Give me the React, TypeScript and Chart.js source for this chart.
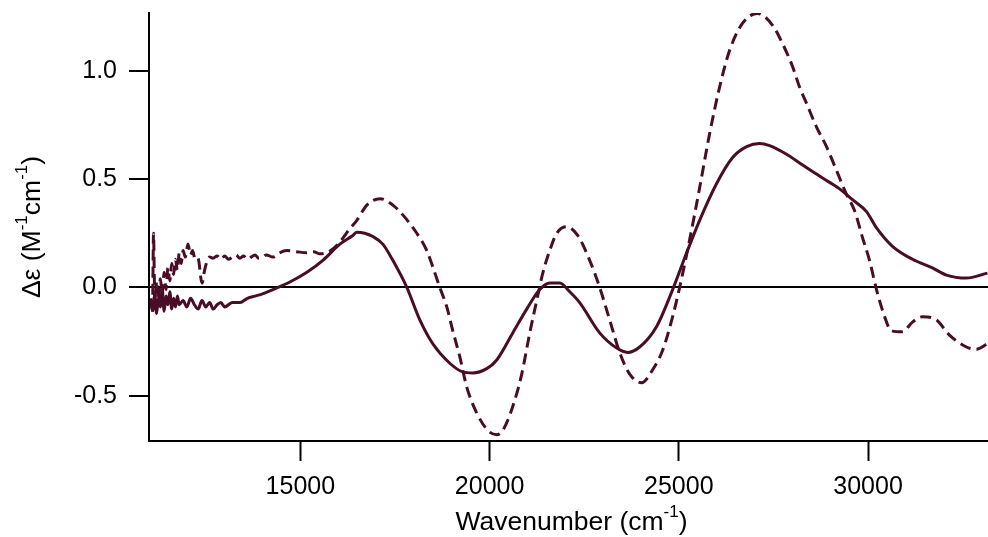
import React, { useEffect, useRef } from 'react';
import { Chart, registerables } from 'chart.js';

Chart.register(...registerables);

// ---- data ----
const solidX = [11050, 11100, 11150, 11200, 11250, 11300, 11350, 11400, 11450, 11500, 11550, 11600, 11650, 11700, 11750, 11800, 11900, 12000, 12100, 12200, 12300, 12400, 12500, 12600, 12700, 12800, 12900, 13000, 13200, 13403, 13600, 13800, 14000, 14274, 14723, 15172, 15595, 16044, 16387, 16493, 16700, 16915, 17179, 17443, 17813, 18156, 18499, 18948, 19291, 19556, 19925, 20189, 20612, 20981, 21325, 21589, 21853, 22117, 22381, 22909, 23358, 23649, 23965, 24414, 24837, 25207, 25550, 25999, 26422, 26792, 27135, 27398, 27847, 28191, 28534, 28983, 29247, 29590, 29960, 30224, 30646, 31174, 31702, 32072, 32600, 33155];
const solidY = [-0.06, -0.10, -0.03, -0.12, -0.05, -0.09, -0.01, -0.11, -0.04, -0.08, -0.02, -0.10, -0.05, -0.09, -0.04, -0.08, -0.06, -0.09, -0.05, -0.08, -0.10, -0.06, -0.09, -0.07, -0.10, -0.08, -0.07, -0.09, -0.07, -0.07, -0.05, -0.04, -0.03, -0.01, 0.025, 0.07, 0.125, 0.20, 0.24, 0.255, 0.25, 0.235, 0.20, 0.125, 0.0, -0.15, -0.26, -0.35, -0.39, -0.395, -0.375, -0.335, -0.21, -0.10, -0.01, 0.02, 0.02, -0.02, -0.07, -0.21, -0.28, -0.30, -0.275, -0.18, -0.01, 0.16, 0.31, 0.48, 0.60, 0.65, 0.665, 0.655, 0.615, 0.575, 0.535, 0.485, 0.455, 0.405, 0.35, 0.275, 0.19, 0.13, 0.09, 0.057, 0.043, 0.066];

const dashedX = [11050, 11090, 11120, 11140, 11160, 11200, 11250, 11300, 11350, 11400, 11450, 11500, 11550, 11600, 11650, 11700, 11750, 11800, 11850, 11900, 11960, 12030, 12100, 12150, 12220, 12294, 12400, 12470, 12532, 12600, 12690, 12800, 12900, 13000, 13100, 13200, 13300, 13400, 13500, 13600, 13700, 13800, 13900, 14000, 14100, 14274, 14450, 14644, 14900, 15172, 15350, 15516, 15800, 16044, 16300, 16493, 16757, 17100, 17443, 17707, 18077, 18341, 18499, 18684, 18869, 19027, 19212, 19397, 19661, 19952, 20189, 20348, 20612, 20849, 21061, 21246, 21404, 21589, 21774, 22038, 22328, 22645, 22909, 23173, 23437, 23702, 24018, 24309, 24573, 24837, 25022, 25286, 25550, 25814, 26078, 26343, 26686, 27082, 27477, 27742, 28005, 28191, 28375, 28639, 28903, 29167, 29431, 29643, 29854, 30039, 30224, 30382, 30620, 30910, 31174, 31438, 31808, 32152, 32600, 32864, 33155];
const dashedY = [-0.05, -0.12, 0.25, 0.05, -0.10, 0.03, -0.06, 0.04, -0.03, 0.07, -0.01, 0.09, 0.03, 0.11, 0.06, 0.13, 0.08, 0.16, 0.11, 0.17, 0.14, 0.20, 0.15, 0.17, 0.13, 0.135, 0.02, 0.08, 0.12, 0.14, 0.135, 0.145, 0.13, 0.145, 0.13, 0.14, 0.15, 0.135, 0.145, 0.13, 0.14, 0.15, 0.135, 0.14, 0.15, 0.14, 0.16, 0.17, 0.165, 0.16, 0.165, 0.155, 0.17, 0.21, 0.27, 0.31, 0.38, 0.41, 0.38, 0.335, 0.25, 0.17, 0.095, 0.0, -0.09, -0.2, -0.32, -0.46, -0.58, -0.66, -0.68, -0.66, -0.55, -0.40, -0.21, -0.06, 0.065, 0.17, 0.25, 0.28, 0.24, 0.125, 0.0, -0.15, -0.30, -0.40, -0.44, -0.38, -0.29, -0.135, 0.0, 0.22, 0.46, 0.71, 0.925, 1.095, 1.22, 1.265, 1.21, 1.125, 1.02, 0.925, 0.85, 0.74, 0.65, 0.54, 0.43, 0.355, 0.23, 0.125, -0.01, -0.105, -0.2, -0.205, -0.16, -0.135, -0.15, -0.22, -0.275, -0.285, -0.26];

const xTickValues = [15000, 20000, 25000, 30000];
const xTickLabels = ['15000', '20000', '25000', '30000'];
const yTickValues = [-0.5, 0, 0.5, 1.0];
const yTickLabels = ['-0.5', '0.0', '0.5', '1.0'];

const xRange = [11000, 33170];
const yRange = [-0.709, 1.267];

type Seg = { t: string; sup?: boolean };
const xTitle: Seg[] = [{ t: 'Wavenumber (cm' }, { t: '-1', sup: true }, { t: ')' }];
const yTitle: Seg[] = [{ t: 'Δε (M' }, { t: '-1', sup: true }, { t: 'cm' }, { t: '-1', sup: true }, { t: ')' }];

const LINE_COLOR = '#4a0c26';
const FONT = '"Liberation Sans", Arial, sans-serif';
const TICK_SIZE = 25;
const TITLE_SIZE = 26.5;

function drawRich(ctx: CanvasRenderingContext2D, segs: Seg[], cx: number, baseY: number, size: number) {
  const supSize = Math.round(size * 0.63);
  const widths = segs.map((s) => {
    ctx.font = `${s.sup ? supSize : size}px ${FONT}`;
    return ctx.measureText(s.t).width;
  });
  const total = widths.reduce((a, b) => a + b, 0);
  let x = cx - total / 2;
  ctx.fillStyle = '#000';
  ctx.textAlign = 'left';
  ctx.textBaseline = 'alphabetic';
  segs.forEach((s, i) => {
    ctx.font = `${s.sup ? supSize : size}px ${FONT}`;
    ctx.fillText(s.t, x, s.sup ? baseY - size * 0.5 : baseY);
    x += widths[i];
  });
}

const titlePlugin = {
  id: 'richTitles',
  afterDraw(chart: any) {
    const ctx: CanvasRenderingContext2D = chart.ctx;
    const a = chart.chartArea;
    ctx.save();
    drawRich(ctx, xTitle, (a.left + a.right) / 2 + 3, a.bottom + 89, TITLE_SIZE);
    ctx.restore();
    ctx.save();
    ctx.translate(a.left - 109, (a.top + a.bottom) / 2);
    ctx.rotate(-Math.PI / 2);
    drawRich(ctx, yTitle, 0, 0, TITLE_SIZE);
    ctx.restore();
  },
};

export default function App() {
  const ref = useRef<HTMLCanvasElement | null>(null);
  useEffect(() => {
    if (!ref.current) return;
    const chart = new Chart(ref.current, {
      type: 'line',
      data: {
        datasets: [
          {
            data: solidX.map((x, i) => ({ x, y: solidY[i] })),
            borderColor: LINE_COLOR,
            borderWidth: 3,
            pointRadius: 0,
            fill: false,
            cubicInterpolationMode: 'monotone',
          },
          {
            data: dashedX.map((x, i) => ({ x, y: dashedY[i] })),
            borderColor: LINE_COLOR,
            borderWidth: 3,
            borderDash: [11, 6],
            pointRadius: 0,
            fill: false,
            cubicInterpolationMode: 'monotone',
          },
        ],
      },
      options: {
        animation: false,
        responsive: false,
        layout: { padding: { top: 13, right: 0, left: 0, bottom: 0 } },
        plugins: { legend: { display: false }, tooltip: { enabled: false } },
        scales: {
          x: {
            type: 'linear',
            min: xRange[0],
            max: xRange[1],
            afterFit: (s: any) => { s.height = 96; s.paddingLeft = 0; s.paddingRight = 0; },
            afterBuildTicks: (s: any) => { s.ticks = xTickValues.map((v) => ({ value: v })); },
            grid: { drawOnChartArea: false, drawTicks: true, tickLength: 20, tickWidth: 2, tickColor: '#000' },
            border: { display: true, color: '#000', width: 2 },
            ticks: {
              color: '#000',
              font: { family: FONT, size: TICK_SIZE },
              padding: 11,
              maxRotation: 0,
              autoSkip: false,
              callback: (v: any) => { const i = xTickValues.indexOf(v); return i >= 0 ? xTickLabels[i] : ''; },
            },
          },
          y: {
            type: 'linear',
            min: yRange[0],
            max: yRange[1],
            afterFit: (s: any) => { s.width = 149; s.paddingTop = 0; s.paddingBottom = 0; },
            afterBuildTicks: (s: any) => { s.ticks = yTickValues.map((v) => ({ value: v })); },
            grid: {
              drawOnChartArea: true,
              drawTicks: true,
              tickLength: 20,
              tickWidth: 2,
              tickColor: '#000',
              lineWidth: 2,
              color: (c: any) => (c.tick && c.tick.value === 0 ? '#000' : 'rgba(0,0,0,0)'),
            },
            border: { display: true, color: '#000', width: 2 },
            ticks: {
              color: '#000',
              font: { family: FONT, size: TICK_SIZE },
              padding: 12,
              autoSkip: false,
              callback: (v: any) => { const i = yTickValues.indexOf(v); return i >= 0 ? yTickLabels[i] : ''; },
            },
          },
        },
      },
      plugins: [titlePlugin],
    } as any);
    return () => chart.destroy();
  }, []);
  return (
    <div style={{ position: 'fixed', left: 0, top: 0, width: 988, height: 537, background: '#fff' }}>
      <canvas ref={ref} width={988} height={537} style={{ display: 'block', width: 988, height: 537 }} />
    </div>
  );
}
